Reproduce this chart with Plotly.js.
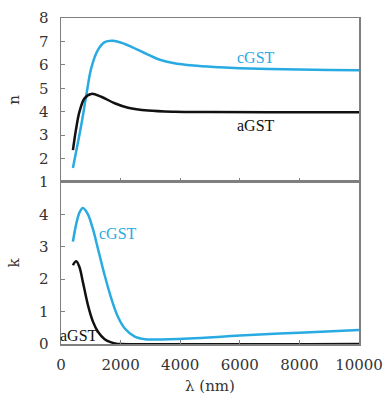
<!DOCTYPE html>
<html><head><meta charset="utf-8">
<script src="https://cdn.plot.ly/plotly-3.0.1.min.js"></script>
<style>html,body{margin:0;padding:0;background:#fff}</style>
</head><body><div id="chart" style="width:383px;height:396px"></div>
<script>
// n (refractive index)
const nCLambda = [400, 680, 850, 1015, 1240, 1465, 1745, 2140, 2420, 2980, 3317, 3765, 4440, 5340, 6000, 7000, 8000, 9000, 10000];
const nCGST    = [1.6, 3.43, 4.71, 5.86, 6.64, 6.97, 7.03, 6.89, 6.74, 6.40, 6.22, 6.08, 5.97, 5.90, 5.86, 5.82, 5.80, 5.78, 5.77];
const nALambda = [400, 510, 620, 790, 1015, 1350, 1800, 2250, 2920, 3820, 5000, 7000, 10000];
const nAGST    = [2.36, 3.29, 4.0, 4.57, 4.76, 4.64, 4.36, 4.17, 4.05, 4.0, 3.99, 3.98, 3.98];
// k (extinction coefficient)
const kCLambda = [400, 510, 620, 735, 900, 1070, 1240, 1465, 1690, 1910, 2140, 2475, 2810, 3150, 4300, 6000, 8000, 10000];
const kCGST    = [3.16, 3.7, 4.06, 4.2, 4.01, 3.55, 2.94, 2.12, 1.4, 0.84, 0.48, 0.23, 0.15, 0.14, 0.17, 0.26, 0.35, 0.43];
const kALambda = [400, 510, 620, 735, 904, 1072, 1240, 1465, 1690, 1857, 2000, 10000];
const kAGST    = [2.43, 2.55, 2.37, 1.91, 1.2, 0.69, 0.38, 0.15, 0.05, 0.01, 0, 0];
const xTicks = [0, 2000, 4000, 6000, 8000, 10000];
const nTicks = [1, 2, 3, 4, 5, 6, 7, 8];
const kTicks = [0, 1, 2, 3, 4];

const blue = '#29abe2', black = '#111111';
const font = {family: 'DejaVu Serif, Liberation Serif, serif', size: 15, color: '#333'};
const labelFamily = 'Liberation Serif, DejaVu Serif, serif';
const axisCommon = {showgrid: false, zeroline: false, showline: true, linecolor: '#7f7f7f', linewidth: 1.5,
  mirror: true, ticks: 'inside', ticklen: 4, tickcolor: '#7f7f7f', tickwidth: 1.2, tickfont: font};

const traces = [
  {x: nCLambda, y: nCGST, xaxis: 'x2', yaxis: 'y2', mode: 'lines', line: {color: blue, width: 2.5, shape: 'spline'}},
  {x: nALambda, y: nAGST, xaxis: 'x2', yaxis: 'y2', mode: 'lines', line: {color: black, width: 2.5, shape: 'spline'}},
  {x: kCLambda, y: kCGST, xaxis: 'x', yaxis: 'y', mode: 'lines', line: {color: blue, width: 2.5, shape: 'spline'}},
  {x: kALambda, y: kAGST, xaxis: 'x', yaxis: 'y', mode: 'lines', line: {color: black, width: 2.5, shape: 'spline'}}
];

const layout = {
  width: 383, height: 396, showlegend: false,
  margin: {l: 61, r: 24, t: 18, b: 52},
  paper_bgcolor: '#fff', plot_bgcolor: '#fff', font: font,
  xaxis: Object.assign({}, axisCommon, {range: [0, 10000], tickvals: xTicks, ticktext: xTicks.map(String),
    ticklabelstandoff: 6, anchor: 'y', title: {text: 'λ (nm)', standoff: 8, font: font}}),
  yaxis: Object.assign({}, axisCommon, {range: [0, 5], domain: [0, 0.497], tickvals: kTicks, ticktext: kTicks.map(String),
    ticklabelstandoff: 8, anchor: 'x', title: {text: 'k', standoff: 15, font: font}}),
  xaxis2: Object.assign({}, axisCommon, {range: [0, 10000], tickvals: xTicks, showticklabels: false, anchor: 'y2', matches: 'x'}),
  yaxis2: Object.assign({}, axisCommon, {range: [1, 8], domain: [0.497, 1], tickvals: nTicks, ticktext: nTicks.map(String),
    ticklabelstandoff: 8, anchor: 'x2', title: {text: 'n', standoff: 15, font: font}}),
  annotations: [
    {x: 6550, y: 6.3, xref: 'x2', yref: 'y2', text: 'cGST', showarrow: false, font: {family: labelFamily, size: 16, color: blue}},
    {x: 6550, y: 3.43, xref: 'x2', yref: 'y2', text: 'aGST', showarrow: false, font: {family: labelFamily, size: 16, color: black}},
    {x: 1900, y: 3.4, xref: 'x', yref: 'y', text: 'cGST', showarrow: false, font: {family: labelFamily, size: 16, color: blue}},
    {x: 590, y: 0.25, xref: 'x', yref: 'y', text: 'aGST', showarrow: false, font: {family: labelFamily, size: 16, color: black}}
  ]
};
Plotly.newPlot('chart', traces, layout, {displayModeBar: false, staticPlot: true});
</script></body></html>
